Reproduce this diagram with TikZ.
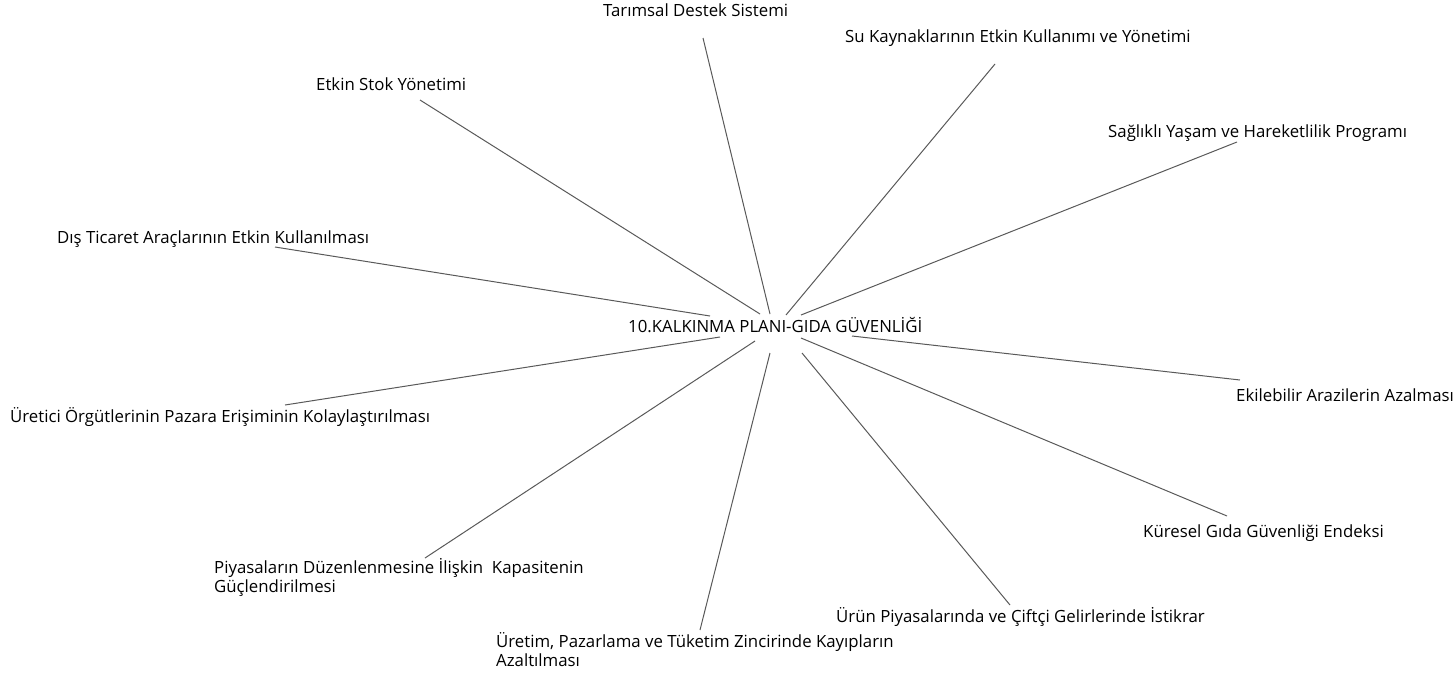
\documentclass[tikz,border=0pt]{standalone}
\usepackage{fontspec}
\setmainfont{Open Sans}
\begin{document}
\begin{tikzpicture}[x=1pt,y=-1pt,
  lbl/.style={inner sep=0pt,anchor=base west,text=black,font=\fontsize{16.8}{19}\selectfont},
  lbltwo/.style={lbl,align=left},
  conn/.style={draw=black!65,line width=1pt}]
\useasboundingbox (0,0) rectangle (1456,675);
% centre
\node[lbl] (c) at (628,332) {10.KALKINMA PLANI-GIDA GÜVENLİĞİ};
% labels
\node[lbl] (l1) at (603,16) {Tarımsal Destek Sistemi};
\node[lbl] (l2) at (845,42) {Su Kaynaklarının Etkin Kullanımı ve Yönetimi};
\node[lbl] (l3) at (1108,137) {Sağlıklı Yaşam ve Hareketlilik Programı};
\node[lbl] (l4) at (316,90) {Etkin Stok Yönetimi};
\node[lbl] (l5) at (57,243) {Dış Ticaret Araçlarının Etkin Kullanılması};
\node[lbl] (l6) at (10,422) {Üretici Örgütlerinin Pazara Erişiminin Kolaylaştırılması};
\node[lbl] (l7) at (1236,401) {Ekilebilir Arazilerin Azalması};
\node[lbl] (l8) at (1143,537) {Küresel Gıda Güvenliği Endeksi};
\node[lbltwo] (l9) at (214,592) {Piyasaların Düzenlenmesine İlişkin\ \ Kapasitenin\\Güçlendirilmesi};
\node[lbltwo] (l10) at (496,666) {Üretim, Pazarlama ve Tüketim Zincirinde Kayıpların\\Azaltılması};
\node[lbl] (l11) at (836,622) {Ürün Piyasalarında ve Çiftçi Gelirlerinde İstikrar};
% connector end points
\coordinate (a1) at (703,38);   \coordinate (b1) at (770,314);
\coordinate (a2) at (995,64);   \coordinate (b2) at (786,315);
\coordinate (a3) at (1237,142); \coordinate (b3) at (801,315);
\coordinate (a4) at (420,100);  \coordinate (b4) at (760,314);
\coordinate (a5) at (275,247);  \coordinate (b5) at (710,316);
\coordinate (a6) at (285,405);  \coordinate (b6) at (720,337);
\coordinate (a7) at (1240,380); \coordinate (b7) at (852,336);
\coordinate (a8) at (1227,516); \coordinate (b8) at (801,338);
\coordinate (a9) at (425,558);  \coordinate (b9) at (755,341);
\coordinate (a10) at (700,630); \coordinate (b10) at (770,353);
\coordinate (a11) at (1010,605);\coordinate (b11) at (802,353);
\foreach \i in {1,...,11} \draw[conn] (a\i) -- (b\i);
\end{tikzpicture}
\end{document}
